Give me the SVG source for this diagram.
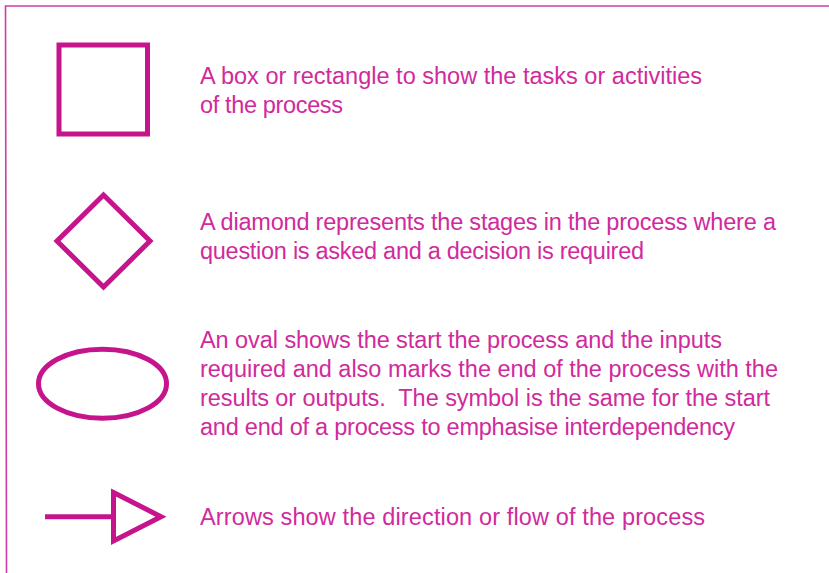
<svg xmlns="http://www.w3.org/2000/svg" width="829" height="573" viewBox="0 0 829 573">
<style>
.shape{fill:none;stroke:#c5148c;stroke-width:5}
.txt{font-family:"Liberation Sans",Arial,sans-serif;font-size:23.5px;fill:#d02a9c;white-space:pre}
.frame{fill:none;stroke:#d03ca3;stroke-width:1.6}
</style>
<rect width="829" height="573" fill="#ffffff"/>
<path class="frame" d="M6.5,573 L5.5,6 L829,6"/>
<g id="box">
<rect class="shape" x="59" y="45" width="88.5" height="89"/>
<text class="txt" x="200" y="84" textLength="502" lengthAdjust="spacing">A box or rectangle to show the tasks or activities</text>
<text class="txt" x="200" y="113" textLength="143" lengthAdjust="spacing">of the process</text>
</g>
<g id="diamond">
<path class="shape" d="M103.5,195 L150,241 L103.5,287 L57,241 Z"/>
<text class="txt" x="200" y="230" textLength="576" lengthAdjust="spacing">A diamond represents the stages in the process where a</text>
<text class="txt" x="200" y="259" textLength="444" lengthAdjust="spacing">question is asked and a decision is required</text>
</g>
<g id="oval">
<ellipse class="shape" cx="102.5" cy="383.7" rx="64" ry="34.5"/>
<text class="txt" x="200" y="348" textLength="522" lengthAdjust="spacing">An oval shows the start the process and the inputs</text>
<text class="txt" x="200" y="377" textLength="578" lengthAdjust="spacing">required and also marks the end of the process with the</text>
<text class="txt" x="200" y="406" textLength="570" lengthAdjust="spacing" xml:space="preserve">results or outputs.  The symbol is the same for the start</text>
<text class="txt" x="200" y="435" textLength="535" lengthAdjust="spacing">and end of a process to emphasise interdependency</text>
</g>
<g id="connectors">
<line class="shape" x1="45" y1="516.7" x2="113.5" y2="516.7" stroke-width="4.5"/>
<path class="shape" d="M113.5,492.5 L161,516.7 L113.5,541 Z"/>
</g>
<g id="arrow-label">
<text class="txt" x="200" y="525" textLength="505" lengthAdjust="spacing">Arrows show the direction or flow of the process</text>
</g>
</svg>
